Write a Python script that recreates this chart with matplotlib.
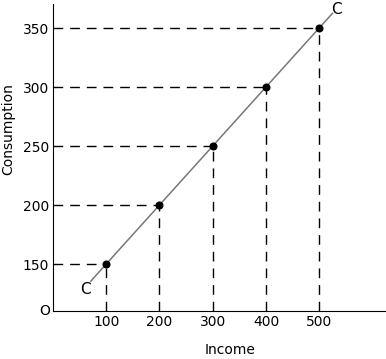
import numpy as np
import matplotlib
matplotlib.use("Agg")
import matplotlib.pyplot as plt

income = [100, 200, 300, 400, 500]
consumption = [150, 200, 250, 300, 350]
line_x = [71, 525]
line_y = [135.5, 362.5]

fig = plt.figure(figsize=(3.86, 3.59), dpi=100)
ax = fig.add_axes([0.1373, 0.1337, 0.862, 0.855])
ax.set_xlim(0, 625)
ax.set_ylim(110.2, 370.3)

# dashed guide lines from each point to the axes
for x, y in zip(income, consumption):
    ax.plot([0, x], [y, y], color="black", lw=1, dashes=(7, 5))
    ax.plot([x, x], [110.2, y], color="black", lw=1, dashes=(7, 5))

ax.plot(line_x, line_y, color="#777777", lw=1.1)
ax.plot(income, consumption, "o", color="black", ms=4.8)

ax.text(line_x[0] - 11, line_y[0] - 7, "C", fontsize=11, ha="center", va="center")
ax.text(line_x[1] + 8, line_y[1] + 3, "C", fontsize=11, ha="center", va="center")

for s in ["top", "right"]:
    ax.spines[s].set_visible(False)
ax.set_xticks(income)
ax.set_yticks(consumption)
ax.tick_params(length=0, labelsize=10, pad=3)
ax.text(-6, 110.2, "O", fontsize=10, ha="right", va="center")

fig.text(0.022, 0.64, "Consumption", rotation=90, fontsize=10, ha="center", va="center")
fig.text(0.595, 0.025, "Income", fontsize=10, ha="center", va="center")

fig.savefig("out.png", dpi=100)
